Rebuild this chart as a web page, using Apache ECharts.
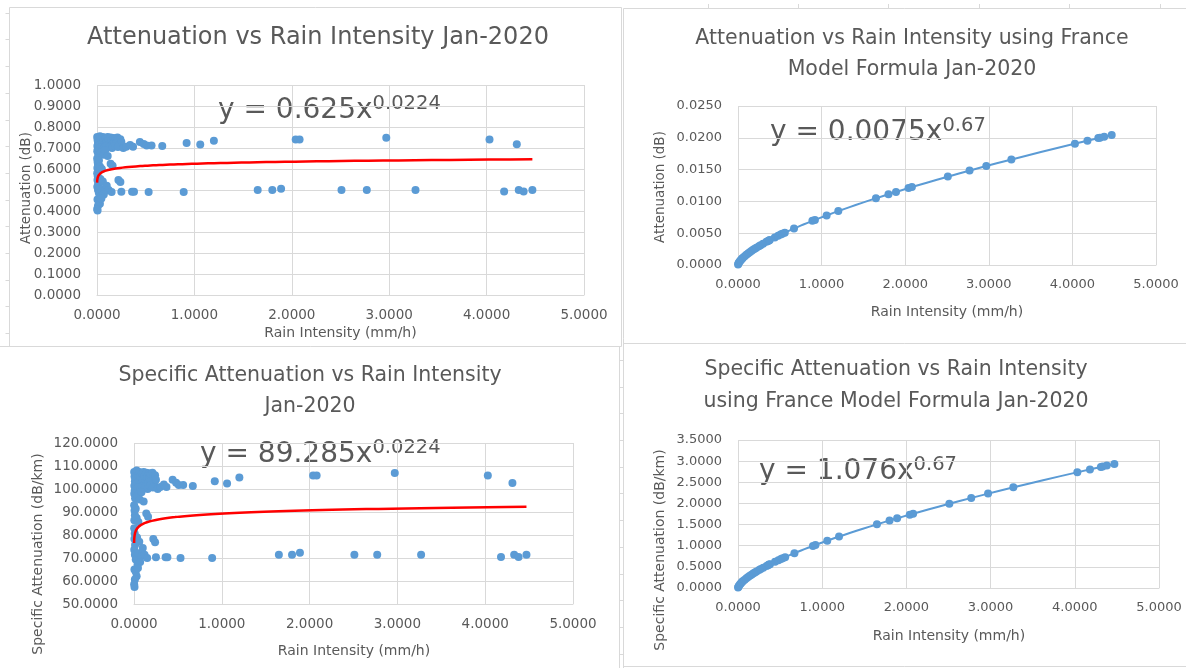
<!DOCTYPE html>
<html>
<head>
<meta charset="utf-8">
<script src="https://cdn.jsdelivr.net/npm/echarts@6/dist/echarts.min.js"></script>
<style>
  html, body { margin: 0; padding: 0; background: #ffffff; }
  #chart { width: 1186px; height: 668px; }
</style>
</head>
<body>
<div id="chart"></div>
<script>
// ---- Measured data, January 2020 ----
// Rain intensity (mm/h): dense cluster near zero, then the upper (~0.72 dB) and lower (~0.50 dB) bands
const rainMeasured = [
  0.002,0.006,0.010,0.004,0.008,0.015,0.020,0.025,0.030,0.035,
  0.045,0.055,0.060,0.070,0.080,0.090,0.100,0.110,0.120,0.130,
  0.140,0.150,0.160,0.170,0.180,0.190,0.200,0.210,0.220,0.230,
  0.240,0.250,0.050,0.075,0.095,0.125,0.155,0.185,0.215,0.003,
  0.012,0.040,0.065,0.085,0.110,0.002,0.006,0.010,0.004,0.020,
  0.030,0.140,0.160,0.050,0.002,0.008,0.005,0.012,0.003,0.010,
  0.020,0.035,0.060,0.050,0.080,0.100,0.120,0.150,0.070,0.220,
  0.240,0.040,0.005,0.020,0.030,0.010,0.002,0.006,0.045,
  0.27,0.30,0.34,0.37,0.44,0.48,0.51,0.56,0.67,0.92,1.06,1.20,2.04,2.08,2.97,4.03,4.31,
  0.25,0.36,0.38,0.53,0.89,1.65,1.80,1.89,2.51,2.77,3.27,4.18,4.33,4.38,4.47
];
// Attenuation (dB)
const attMeasured = [
  0.752,0.738,0.724,0.710,0.695,0.748,0.730,0.715,0.756,0.700,
  0.742,0.725,0.752,0.738,0.715,0.748,0.728,0.752,0.740,0.722,
  0.750,0.735,0.718,0.748,0.730,0.745,0.725,0.750,0.738,0.712,
  0.742,0.728,0.705,0.700,0.708,0.704,0.700,0.710,0.705,0.685,
  0.672,0.680,0.668,0.690,0.662,0.650,0.635,0.620,0.605,0.640,
  0.612,0.625,0.615,0.600,0.580,0.565,0.548,0.530,0.515,0.500,
  0.485,0.552,0.540,0.505,0.495,0.520,0.500,0.490,0.478,0.548,
  0.538,0.470,0.455,0.448,0.435,0.425,0.410,0.402,0.460,
  0.700,0.706,0.714,0.706,0.728,0.719,0.712,0.712,0.709,0.724,0.717,0.735,0.741,0.741,0.749,0.741,0.718,
  0.492,0.492,0.492,0.490,0.490,0.500,0.500,0.506,0.500,0.500,0.500,0.493,0.500,0.493,0.500
];
// Specific attenuation (dB/km)
const specMeasured = [
  107.4,105.4,103.4,101.4,99.3,106.9,104.3,102.1,108.0,100.0,
  106.0,103.6,107.4,105.4,102.1,106.9,104.0,107.4,105.7,103.1,
  107.1,105.0,102.6,106.9,104.3,106.4,103.6,107.1,105.4,101.7,
  106.0,104.0,100.7,100.0,101.1,100.6,100.0,101.4,100.7,97.9,
  96.0,97.1,95.4,98.6,94.6,92.9,90.7,88.6,86.4,91.4,
  87.4,89.3,87.9,85.7,82.9,80.7,78.3,75.7,73.6,71.4,
  69.3,78.9,77.1,72.1,70.7,74.3,71.4,70.0,68.3,78.3,
  76.9,67.1,65.0,64.0,62.1,60.7,58.6,57.4,65.7,
  100.0,100.9,102.0,100.9,104.0,102.7,101.7,101.7,101.3,103.4,102.4,105.0,105.9,105.9,107.0,105.9,102.6,
  70.3,70.3,70.3,70.0,70.0,71.4,71.4,72.3,71.4,71.4,71.4,70.4,71.4,70.4,71.4
];

// ---- France model values ----
const rainModel = [
  0.001,0.005,0.01,0.02,0.03,0.04,0.05,0.06,0.08,0.10,
  0.12,0.14,0.16,0.18,0.20,0.22,0.25,0.27,0.30,0.34,
  0.36,0.37,0.38,0.44,0.48,0.51,0.53,0.56,0.67,0.89,
  0.92,1.06,1.20,1.65,1.80,1.89,2.04,2.08,2.51,2.77,
  2.97,3.27,4.03,4.18,4.31,4.33,4.38,4.47
];
const attModel = [
  0.00007,0.00022,0.00034,0.00055,0.00072,0.00087,0.00101,0.00114,0.00138,0.00160,
  0.00181,0.00201,0.00220,0.00238,0.00255,0.00272,0.00296,0.00312,0.00335,0.00364,
  0.00378,0.00385,0.00392,0.00433,0.00459,0.00478,0.00490,0.00509,0.00574,0.00694,
  0.00709,0.00780,0.00848,0.01049,0.01112,0.01149,0.01209,0.01225,0.01390,0.01484,
  0.01555,0.01659,0.01908,0.01955,0.01996,0.02002,0.02018,0.02045
];
const specModel = [
  0.011,0.031,0.049,0.078,0.103,0.125,0.145,0.163,0.198,0.230,
  0.260,0.288,0.315,0.341,0.366,0.390,0.425,0.448,0.480,0.522,
  0.543,0.553,0.563,0.621,0.658,0.685,0.703,0.730,0.823,0.995,
  1.017,1.119,1.216,1.505,1.596,1.648,1.735,1.758,1.994,2.129,
  2.232,2.380,2.737,2.805,2.863,2.873,2.895,2.934
];

// Power-law fits y = a * x^b shown on each panel
const fitAtt = { a: 0.625, b: 0.0224 };
const fitSpec = { a: 89.285, b: 0.0224 };
const fitAttModel = { a: 0.0075, b: 0.67 };
const fitSpecModel = { a: 1.076, b: 0.67 };
const fitRange = [0.001, 4.47];

const xTicks = { min: 0, max: 5, interval: 1 };
const yTicks = [
  { min: 0, max: 1, interval: 0.1 },
  { min: 0, max: 0.025, interval: 0.005 },
  { min: 50, max: 120, interval: 10 },
  { min: 0, max: 3.5, interval: 0.5 }
];

const titles = [
  ['Attenuation vs Rain Intensity Jan-2020'],
  ['Attenuation vs Rain Intensity using France', 'Model Formula Jan-2020'],
  ['Specific Attenuation vs Rain Intensity', 'Jan-2020'],
  ['Specific Attenuation vs Rain Intensity', 'using France Model Formula Jan-2020']
];
const xTitle = 'Rain Intensity (mm/h)';
const yTitles = ['Attenuation (dB)', 'Attenuation (dB)', 'Specific Attenuation (dB/km)', 'Specific Attenuation (dB/km)'];

// ---- helpers ----
const FONT = 'DejaVu Sans';
const TEXT = '#595959';
const GRIDC = '#d9d9d9';
const BLUE = '#5B9BD5';

function zip(xs, ys) { return xs.map((x, i) => [x, ys[i]]); }
function fitCurve(fit) {
  const pts = [];
  const n = 160;
  for (let i = 0; i <= n; i++) {
    const x = fitRange[0] * Math.pow(fitRange[1] / fitRange[0], i / n);
    pts.push([x, fit.a * Math.pow(x, fit.b)]);
  }
  return pts;
}

const gridBoxes = [
  { left: 97, top: 85, width: 487, height: 210 },
  { left: 738, top: 106, width: 418, height: 159 },
  { left: 134, top: 443, width: 439, height: 161 },
  { left: 738, top: 440, width: 421, height: 148 }
];
const labelSizes = [13.5, 13, 13.5, 13];

const xAxes = gridBoxes.map((g, i) => ({
  type: 'value', gridIndex: i, min: xTicks.min, max: xTicks.max, interval: xTicks.interval,
  axisLine: { show: true, lineStyle: { color: GRIDC } },
  axisTick: { show: false },
  splitLine: { show: true, lineStyle: { color: GRIDC, width: 1 } },
  axisLabel: { color: TEXT, fontFamily: FONT, fontSize: labelSizes[i], margin: 13,
               formatter: v => v.toFixed(4), showMaxLabel: true, showMinLabel: true }
}));
const yAxes = gridBoxes.map((g, i) => ({
  type: 'value', gridIndex: i, min: yTicks[i].min, max: yTicks[i].max, interval: yTicks[i].interval,
  axisLine: { show: false },
  axisTick: { show: false },
  splitLine: { show: true, lineStyle: { color: GRIDC, width: 1 } },
  axisLabel: { color: TEXT, fontFamily: FONT, fontSize: labelSizes[i], margin: 16,
               formatter: v => v.toFixed(4), showMaxLabel: true, showMinLabel: true }
}));

function scatter(i, data) {
  return { type: 'scatter', xAxisIndex: i, yAxisIndex: i, data: data, symbolSize: 8,
           itemStyle: { color: BLUE, opacity: 1 }, z: 3, silent: true };
}
function trend(i, fit, color, width, z) {
  return { type: 'line', xAxisIndex: i, yAxisIndex: i, data: fitCurve(fit), showSymbol: false,
           smooth: false, lineStyle: { color: color, width: width }, z: z, silent: true };
}

// ---- text and frame graphics ----
const graphics = [];
function txt(x, y, text, size, extra) {
  graphics.push(Object.assign({
    type: 'text', x: x, y: y, silent: true,
    style: { text: text, fontSize: size, fontFamily: FONT, fill: TEXT,
             align: 'center', verticalAlign: 'middle', textAlign: 'center', textVerticalAlign: 'middle' }
  }, extra || {}));
}
function line(x1, y1, x2, y2) {
  graphics.push({ type: 'line', silent: true, shape: { x1, y1, x2, y2 },
                  style: { stroke: GRIDC, lineWidth: 1 } });
}
function equation(x, y, fit) {
  graphics.push({
    type: 'text', x: x, y: y, silent: true,
    style: {
      text: '{m|y = ' + fit.a + 'x}{s|' + fit.b + '}',
      align: 'left', verticalAlign: 'middle', textAlign: 'left', textVerticalAlign: 'middle',
      rich: {
        m: { fontSize: 28, fontFamily: FONT, fill: '#595959', lineHeight: 34 },
        s: { fontSize: 19.5, fontFamily: FONT, fill: '#595959', lineHeight: 22, verticalAlign: 'top' }
      }
    }
  });
}

// panel frames
line(9.5, 7.5, 621.5, 7.5);
line(9.5, 7.5, 9.5, 346.5);
line(621.5, 7.5, 621.5, 346.5);
line(0, 346.5, 621.5, 346.5);
line(623.5, 8.5, 1186, 8.5);
line(623.5, 8.5, 623.5, 668);
line(623.5, 343.5, 1186, 343.5);
line(623.5, 666.5, 1186, 666.5);
line(619.5, 346.5, 619.5, 668);
// sheet row marks along the left edge and the narrow column between panels
for (let y = 12.7; y < 346; y += 26.7) line(5.5, Math.round(y) + 0.5, 9.5, Math.round(y) + 0.5);
for (let y = 360; y < 668; y += 26.7) line(619.5, Math.round(y) + 0.5, 623.5, Math.round(y) + 0.5);
for (const x of [708, 798, 888, 979, 1069, 1160]) line(x + 0.5, 4, x + 0.5, 8.5);

// titles
txt(318, 38, titles[0][0], 24);
txt(912, 39, titles[1][0], 20.5);
txt(912, 70, titles[1][1], 20.5);
txt(310, 376, titles[2][0], 20.5);
txt(310, 407, titles[2][1], 20.5);
txt(896, 370, titles[3][0], 20.5);
txt(896, 402, titles[3][1], 20.5);

// axis titles
txt(340.5, 333, xTitle, 14);
txt(947, 312, xTitle, 14);
txt(354, 651, xTitle, 14);
txt(949, 636, xTitle, 14);
txt(26, 188, yTitles[0], 13.5, { rotation: Math.PI / 2 });
txt(660, 187, yTitles[1], 13.5, { rotation: Math.PI / 2 });
txt(38, 554, yTitles[2], 14, { rotation: Math.PI / 2 });
txt(660, 550, yTitles[3], 14, { rotation: Math.PI / 2 });

// fitted equations
equation(218, 111, fitAtt);
equation(770, 133, fitAttModel);
equation(200, 455, fitSpec);
equation(759, 472, fitSpecModel);

const option = {
  animation: false,
  backgroundColor: '#ffffff',
  grid: gridBoxes.map(g => Object.assign({ containLabel: false, show: false }, g)),
  xAxis: xAxes,
  yAxis: yAxes,
  series: [
    scatter(0, zip(rainMeasured, attMeasured)),
    trend(0, fitAtt, '#FF0000', 2.5, 5),
    trend(1, fitAttModel, BLUE, 2, 2),
    scatter(1, zip(rainModel, attModel)),
    scatter(2, zip(rainMeasured, specMeasured)),
    trend(2, fitSpec, '#FF0000', 2.5, 5),
    trend(3, fitSpecModel, BLUE, 2, 2),
    scatter(3, zip(rainModel, specModel))
  ],
  graphic: graphics
};

const chart = echarts.init(document.getElementById('chart'), null, { renderer: 'canvas' });
chart.setOption(option);
</script>
</body>
</html>
